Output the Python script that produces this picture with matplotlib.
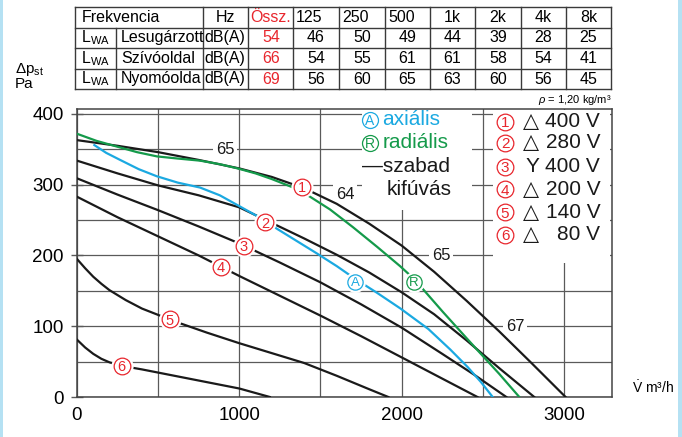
import matplotlib
matplotlib.use('Agg')
import matplotlib.pyplot as plt
from matplotlib.patches import Rectangle
from matplotlib.lines import Line2D

plt.rcParams['font.family'] = ['Liberation Sans', 'DejaVu Sans', 'Noto Sans CJK JP']
plt.rcParams['mathtext.fontset'] = 'custom'
plt.rcParams['mathtext.rm'] = 'Liberation Sans'
plt.rcParams['mathtext.it'] = 'Liberation Sans:italic'

# --- noise table ---
freqs = ['125', '250', '500', '1k', '2k', '4k', '8k']
row_names = ['Lesugárzott', 'Szívóoldal', 'Nyomóolda']
total = [54, 66, 69]
lwa_lesug = [46, 50, 49, 44, 39, 28, 25]
lwa_sziv = [54, 55, 61, 61, 58, 54, 41]
lwa_nyomo = [56, 60, 65, 63, 60, 56, 45]

# --- fan curves (V m3/h, dp Pa) ---
c1_x = [0, 250, 500, 750, 1000, 1200, 1400, 1600, 1800, 2000, 2200, 2400, 2600, 2800, 3010]
c1_y = [363, 355, 346, 335, 323, 311, 295, 273, 245, 214, 177, 136, 93, 48, 0]
c2_x = [0, 250, 500, 750, 1000, 1100, 1200, 1400, 1600, 1800, 2000, 2200, 2400, 2600, 2817]
c2_y = [334, 316, 299, 285, 268, 257, 246, 224, 201, 176, 148, 117, 80, 41, 0]
c3_x = [0, 250, 500, 750, 1000, 1250, 1500, 1750, 2000, 2250, 2450, 2645]
c3_y = [309, 286, 264, 241, 217, 190, 162, 131, 98, 61, 31, 0]
c4_x = [0, 250, 500, 750, 1000, 1250, 1500, 1750, 2000, 2250, 2467]
c4_y = [283, 254, 227, 200, 171, 143, 115, 86, 56, 26, 0]
c5_x = [0, 50, 100, 150, 200, 300, 400, 500, 600, 800, 1000, 1200, 1400, 1600, 1800, 1918]
c5_y = [195, 182, 170, 160, 151, 137, 125, 116, 107, 91, 76, 62, 48, 30, 11, 0]
c6_x = [0, 50, 100, 150, 200, 275, 400, 600, 800, 1000, 1188]
c6_y = [81, 70, 61, 54, 49, 44, 39, 30, 21, 12, 0]
ax_x = [107, 180, 266, 380, 491, 620, 758, 880, 990, 1107, 1230, 1350, 1477, 1600, 1713,
        1850, 1993, 2165, 2300, 2408, 2489, 2561]
ax_y = [356, 345, 335, 322, 312, 303, 296, 285, 271, 256, 238, 221, 203, 185, 167,
        147, 125, 96, 67, 42, 21, 0]
rad_x = [0, 120, 244, 370, 493, 620, 758, 880, 990, 1100, 1200, 1332, 1436, 1559, 1700,
         1850, 1990, 2076, 2255, 2452, 2600, 2725]
rad_y = [372, 362, 354, 346, 340, 337, 334, 329, 323, 316, 308, 296, 283, 265, 240,
         212, 185, 167, 120, 70, 33, 0]

curve_nums = ['1', '2', '3', '4', '5', '6']
label_x = [1385, 1158, 1029, 885, 571, 275]
label_y = [297, 247, 214, 184, 110, 44]
noise_txt = ['65', '64', '65', '67']
noise_x = [912, 1651, 2243, 2699]
noise_y = [350, 286, 200, 100]
volt_sym = ['△', '△', 'Y', '△', '△', '△']
volt_val = ['400 V', '280 V', '400 V', '200 V', '140 V', '80 V']

RED = '#e8262d'
BLUE = '#1ba9e1'
GREEN = '#149a4a'
BLACK = '#1a1a1a'
GRID = '#5a5a5a'

W, H = 682, 437
fig = plt.figure(figsize=(W / 100, H / 100), dpi=100)


def fx(px):
    return px / W


def fy(py):
    return 1 - py / H


# light blue side strips
fig.add_artist(Rectangle((0, 0), fx(3), 1, transform=fig.transFigure, color='#b5e1f3', lw=0))
fig.add_artist(Rectangle((fx(678), 0), fx(4), 1, transform=fig.transFigure, color='#b5e1f3', lw=0))

# table
col_x = [75, 116, 203, 248, 293, 339, 385, 430, 475, 521, 566, 611]
row_y = [7, 27.5, 48, 68.7, 89.3]
lc = '#3a3a3a'
for yy in row_y:
    fig.add_artist(Line2D([fx(col_x[0]), fx(col_x[-1])], [fy(yy), fy(yy)], color=lc, lw=1))
for i, xx in enumerate(col_x):
    top = row_y[1] if i == 1 else row_y[0]
    fig.add_artist(Line2D([fx(xx), fx(xx)], [fy(top), fy(row_y[-1])], color=lc, lw=1))

tfs = 11.5
hy = (row_y[0] + row_y[1]) / 2
fig.text(fx(82), fy(hy), 'Frekvencia', fontsize=tfs, va='center', ha='left')
fig.text(fx(225), fy(hy), 'Hz', fontsize=tfs, va='center', ha='center')
fig.text(fx(270.5), fy(hy), 'Össz.', fontsize=tfs, va='center', ha='center', color=RED)
for j, f in enumerate(freqs):
    if j < 3:
        fig.text(fx(col_x[4 + j] + 3), fy(hy), f, fontsize=tfs, va='center', ha='left')
    else:
        fig.text(fx((col_x[4 + j] + col_x[5 + j]) / 2), fy(hy), f, fontsize=tfs, va='center', ha='center')

rows = [lwa_lesug, lwa_sziv, lwa_nyomo]
for r in range(3):
    cy = fy((row_y[r + 1] + row_y[r + 2]) / 2)
    fig.text(fx(81), cy, 'L$_{\\mathrm{WA}}$', fontsize=tfs, va='center', ha='left')
    fig.text(fx(121), cy, row_names[r], fontsize=tfs, va='center', ha='left')
    fig.text(fx(204), cy, 'dB(A)', fontsize=tfs, va='center', ha='left')
    fig.text(fx(271), cy, str(total[r]), fontsize=tfs, va='center', ha='center', color=RED)
    for j, v in enumerate(rows[r]):
        fig.text(fx((col_x[4 + j] + col_x[5 + j]) / 2), cy, str(v), fontsize=tfs, va='center', ha='center')

fig.text(fx(612), fy(100), '$\\rho$ = 1,20 kg/m³', fontsize=8, ha='right', va='center')
fig.text(fx(15), fy(69), 'Δp$_{\\mathrm{st}}$', fontsize=11, ha='left', va='center')
fig.text(fx(15), fy(84), 'Pa', fontsize=11, ha='left', va='center')
fig.text(fx(632), fy(388), '$\\dot{\\mathrm{V}}$ m³/h', fontsize=10, ha='left', va='center')

# chart
ax = fig.add_axes([fx(77), fy(397), (612 - 77) / W, (397 - 109) / H])
ax.set_xlim(0, 3296)
ax.set_ylim(0, 407)
ax.set_xticks([0, 1000, 2000, 3000])
ax.set_xticks([500, 1500, 2500], minor=True)
ax.set_yticks([0, 100, 200, 300, 400])
ax.set_yticks([50, 150, 250, 350], minor=True)
ax.grid(True, which='both', color=GRID, lw=0.9, zorder=0)
ax.set_axisbelow(True)
ax.tick_params(axis='x', which='both', length=0, labelsize=13.5, pad=7)
ax.tick_params(axis='y', which='major', direction='inout', length=9, width=1, labelsize=13.5, pad=5, color=GRID)
ax.tick_params(axis='y', which='minor', length=0)
for s in ax.spines.values():
    s.set_color('#444444')
    s.set_linewidth(1.1)

# white areas behind the legends
ax.add_patch(Rectangle((0.533, 0.649), 0.738 - 0.533, 0.36, transform=ax.transAxes, fc='white', ec='none', zorder=1))
ax.add_patch(Rectangle((0.778, 0.465), 0.219, 0.533, transform=ax.transAxes, fc='white', ec='none', zorder=1))

for xs, ys in [(c1_x, c1_y), (c2_x, c2_y), (c3_x, c3_y), (c4_x, c4_y), (c5_x, c5_y), (c6_x, c6_y)]:
    ax.plot(xs, ys, color=BLACK, lw=1.6, zorder=3, solid_joinstyle='round')
ax.plot(ax_x, ax_y, color=BLUE, lw=1.6, zorder=3, solid_joinstyle='round')
ax.plot(rad_x, rad_y, color=GREEN, lw=1.6, zorder=3, solid_joinstyle='round')


def circled(x, y, t, col, tr=None, ms=12, fs=10.5, gap=True):
    tr = tr or ax.transData
    if gap:
        ax.plot([x], [y], 'o', ms=ms + 4, mfc='white', mec='none', transform=tr, zorder=5, clip_on=False)
    ax.plot([x], [y], 'o', ms=ms, mfc='white', mec=col, mew=0.9, transform=tr, zorder=6, clip_on=False)
    ax.text(x, y, t, color=col, fontsize=fs, ha='center', va='center_baseline', transform=tr, zorder=7)


for t, x, y in zip(curve_nums, label_x, label_y):
    circled(x, y, t, RED)
circled(1713, 163, 'A', BLUE, ms=11, fs=9.5)
circled(2076, 163, 'R', GREEN, ms=11, fs=9.5)
for t, x, y in zip(noise_txt, noise_x, noise_y):
    ax.text(x, y, t, color=BLACK, fontsize=12, ha='center', va='center',
            bbox=dict(fc='white', ec='none', pad=2), zorder=2)

# middle legend
lfs = 15
circled(0.5475, 0.962, 'A', BLUE, tr=ax.transAxes, ms=11.5, fs=10, gap=False)
ax.text(0.571, 0.962, 'axiális', transform=ax.transAxes, color=BLUE, fontsize=lfs, va='center', zorder=4)
circled(0.5475, 0.882, 'R', GREEN, tr=ax.transAxes, ms=11.5, fs=10, gap=False)
ax.text(0.571, 0.882, 'radiális', transform=ax.transAxes, color=GREEN, fontsize=lfs, va='center', zorder=4)
ax.text(0.533, 0.799, '—szabad', transform=ax.transAxes, color=BLACK, fontsize=lfs, va='center', zorder=4)
ax.text(0.579, 0.719, 'kifúvás', transform=ax.transAxes, color=BLACK, fontsize=lfs, va='center', zorder=4)

# right legend
leg_y = [0.955, 0.882, 0.799, 0.722, 0.642, 0.563]
for i in range(6):
    circled(0.8, leg_y[i], curve_nums[i], RED, tr=ax.transAxes, ms=12, fs=11, gap=False)
    sx = 0.834 if volt_sym[i] == '△' else 0.838
    ax.text(sx, leg_y[i], volt_sym[i], transform=ax.transAxes, color=BLACK, fontsize=lfs, va='center', zorder=4)
    ax.text(0.978, leg_y[i], volt_val[i], transform=ax.transAxes, color=BLACK, fontsize=lfs, va='center',
            ha='right', zorder=4)

fig.savefig('out.png', dpi=100, facecolor='white')
